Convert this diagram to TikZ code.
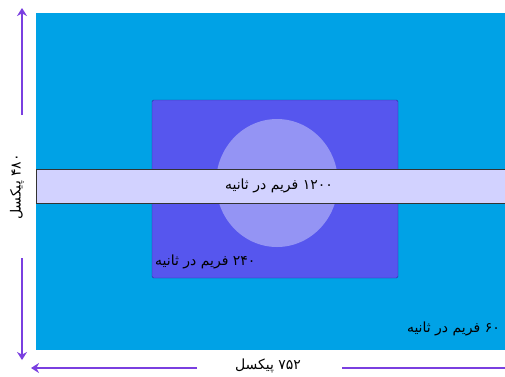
\documentclass[tikz,border=0pt]{standalone}
\usepackage{fontspec}
\newfontfamily\arabicfont[Script=Arabic]{DejaVu Sans}
\TeXXeTstate=1
\usetikzlibrary{arrows.meta, positioning}

\definecolor{skyfill}{HTML}{00A2E6}
\definecolor{midfill}{HTML}{5656EE}
\definecolor{midline}{HTML}{2C2C9C}
\definecolor{spotfill}{HTML}{9494F4}
\definecolor{bandfill}{HTML}{D2D2FF}
\definecolor{dimline}{HTML}{7A3FE0}

\begin{document}
\begin{tikzpicture}[
  x=1pt, y=-1pt,
  fa/.style={font=\arabicfont\fontsize{14}{16}\selectfont, inner sep=1pt},
  dimarrow/.style={-{Stealth[length=8pt, width=10pt]}, draw=dimline, line width=1.8pt}
]
  \useasboundingbox (0,0) rectangle (505,376);

  % 60 fps area
  \fill[skyfill] (36,13) rectangle (505,350);
  \node[fa, anchor=east] (fps60) at (501,329) {\beginR\beginL ۶۰\endL{} فریم در ثانیه\endR};

  % 240 fps area
  \draw[midline, fill=midfill, rounded corners=1.5pt] (152,100) rectangle (398,278);
  \fill[spotfill] (277,183) ellipse (61 and 64);
  \node[fa, anchor=west] (fps240) at (154,262) {\beginR\beginL ۲۴۰\endL{} فریم در ثانیه\endR};

  % 1200 fps band
  \draw[draw=black!80, fill=bandfill, line width=0.8pt] (36,169) rectangle (506,203);
  \node[fa] (fps1200) at (279,186) {\beginR\beginL ۱۲۰۰\endL{} فریم در ثانیه\endR};

  % height
  \node[fa, rotate=90] (hlbl) at (17,187) {\beginR\beginL ۴۸۰\endL{} پیکسل\endR};
  \coordinate (htopA) at (22,115);
  \coordinate (htopB) at (22,8);
  \coordinate (hbotA) at (22,258);
  \coordinate (hbotB) at (22,360);
  \draw[dimarrow] (htopA) -- (htopB);
  \draw[dimarrow] (hbotA) -- (hbotB);

  % width
  \node[fa] (wlbl) at (268,366) {\beginR\beginL ۷۵۲\endL{} پیکسل\endR};
  \coordinate (wlftA) at (197,368);
  \coordinate (wlftB) at (31,368);
  \coordinate (wrgtA) at (342,368);
  \coordinate (wrgtB) at (505,368);
  \draw[dimarrow] (wlftA) -- (wlftB);
  \draw[dimline, line width=1.8pt] (wrgtA) -- (wrgtB);
\end{tikzpicture}
\end{document}
